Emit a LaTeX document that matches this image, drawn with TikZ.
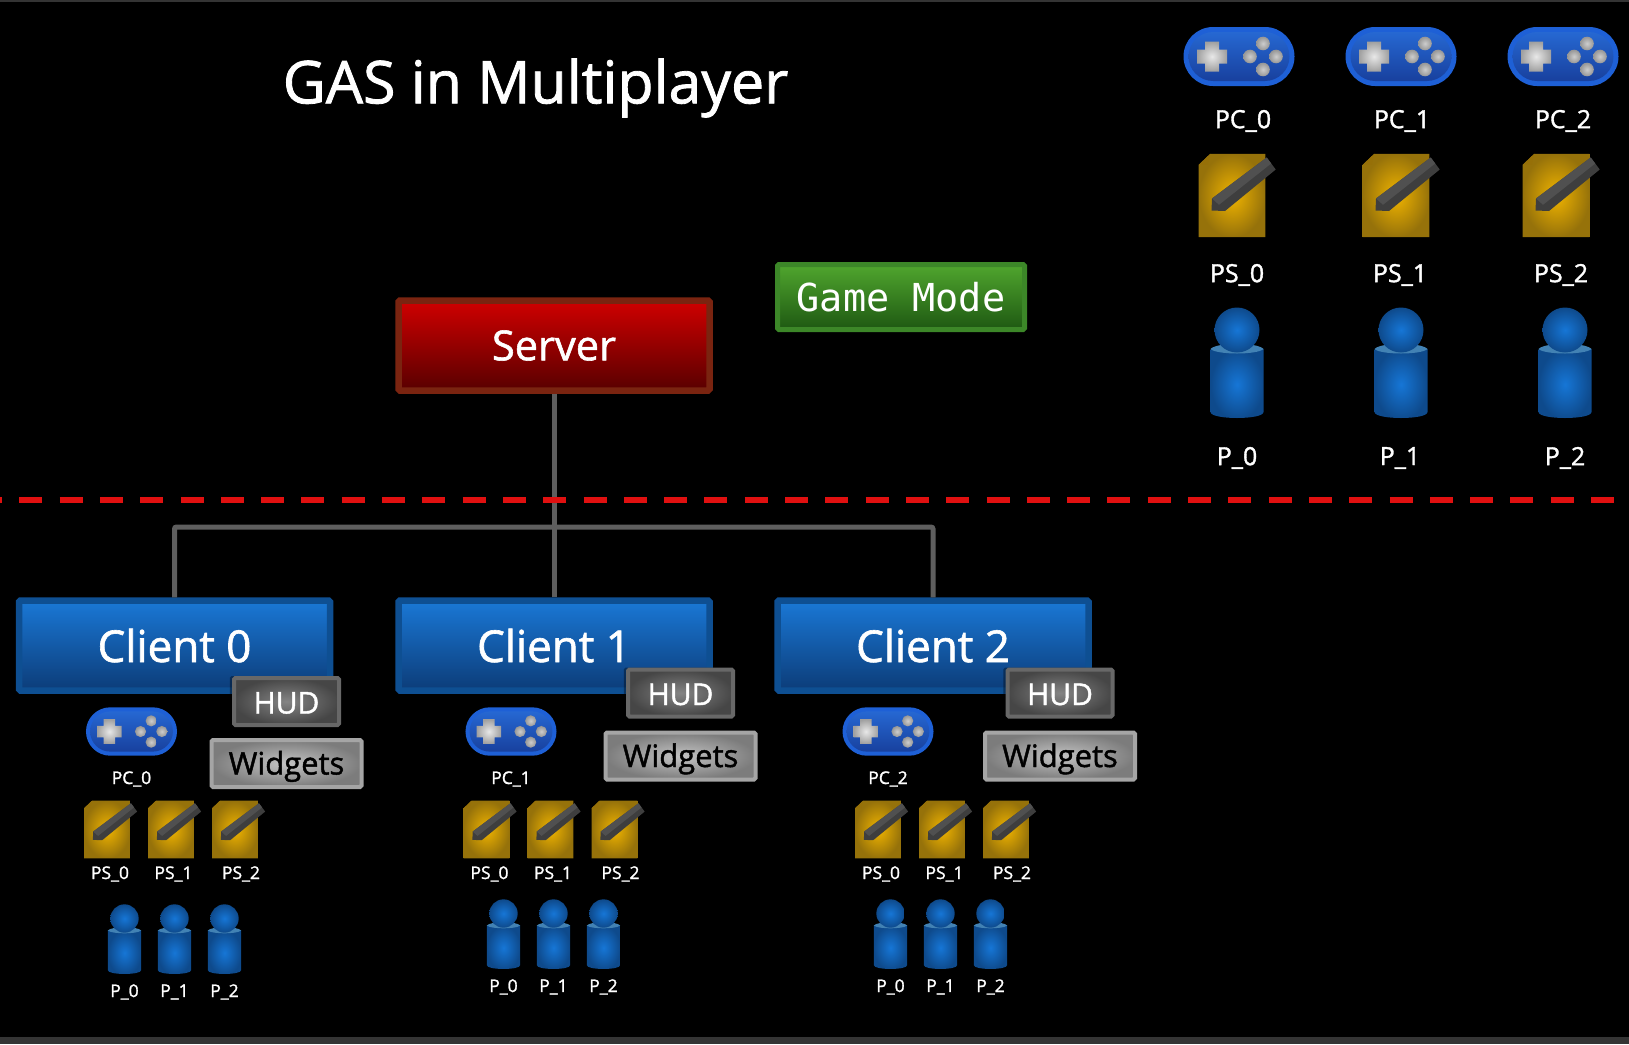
\documentclass[tikz,border=0pt]{standalone}
\usepackage{fontspec}
\setmainfont{Open Sans}[RawFeature={embolden=1.4}]
\newfontfamily\modefont{DejaVu Sans Mono}
\usetikzlibrary{shadows}

\definecolor{rimblue}{HTML}{0E4F92}
\definecolor{wiregray}{HTML}{5E5E5E}
\definecolor{cutred}{HTML}{E01010}

\newcommand{\fsize}[1]{\fontsize{#1}{#1}\selectfont}
% half straight length, radius
\newcommand{\pill}[2]{(-#1,-#2) -- (#1,-#2) .. controls ({#1+.55*#2},-#2) and ({#1+#2},{-.55*#2}) .. ({#1+#2},0) .. controls ({#1+#2},{.55*#2}) and ({#1+.55*#2},#2) .. (#1,#2) -- (-#1,#2) .. controls ({-#1-.55*#2},#2) and ({-#1-#2},{.55*#2}) .. ({-#1-#2},0) .. controls ({-#1-#2},{-.55*#2}) and ({-#1-.55*#2},-#2) .. cycle}

\tikzset{
    panel/.style = {rounded corners=1.5pt, line width=6.5pt, text=white, font=\fsize{41.5}},
    server/.style = {panel, minimum width=311pt, minimum height=90pt, draw={rgb,255:red,122;green,36;blue,16}, top color={rgb,255:red,208;green,0;blue,0}, bottom color={rgb,255:red,88;green,0;blue,0}},
    client/.style = {panel, minimum width=311pt, minimum height=90pt, draw=rimblue, top color={rgb,255:red,26;green,120;blue,214}, bottom color={rgb,255:red,12;green,60;blue,120}, font=\fsize{44}},
    mode/.style = {panel, line width=5pt, minimum width=247pt, minimum height=65pt, draw={rgb,255:red,60;green,135;blue,40}, top color={rgb,255:red,80;green,166;blue,46}, bottom color={rgb,255:red,30;green,88;blue,18}, font=\modefont\fsize{38.5}},
    hud/.style = {panel, line width=4pt, minimum width=105pt, minimum height=47pt, draw={rgb,255:red,104;green,104;blue,104}, inner color={rgb,255:red,132;green,132;blue,132}, outer color={rgb,255:red,70;green,70;blue,70}, font=\fsize{30}, text height=26pt, text depth=2pt, general shadow={shadow scale=1.08, fill=black, opacity=.35}},
    widgets/.style = {panel, line width=4pt, minimum width=150pt, minimum height=47pt, draw={rgb,255:red,165;green,165;blue,165}, inner color={rgb,255:red,196;green,196;blue,196}, outer color={rgb,255:red,124;green,124;blue,124}, text=black, font=\fsize{31}, text height=25pt, text depth=3pt},
    biglabel/.style = {text=white, inner sep=0pt, font=\fsize{25}, yshift=-3pt},
    smalllabel/.style = {text=white, inner sep=0pt, font=\fsize{17.5}, yshift=-2pt},
    wire/.style = {draw=wiregray, line width=5pt, rounded corners=2pt},
    gamepad/.pic = {
        \fill[color={rgb,255:red,30;green,96;blue,214}] \pill{26}{29.5};
        \shade[top color={rgb,255:red,38;green,104;blue,210}, bottom color={rgb,255:red,24;green,64;blue,158}] \pill{26}{24.5};
        \shade[inner color={rgb,255:red,232;green,232;blue,232}, outer color={rgb,255:red,160;green,160;blue,160}]
            (-34,-15) -- (-20,-15) -- (-20,-7) -- (-12,-7) -- (-12,7) -- (-20,7) -- (-20,15) -- (-34,15) -- (-34,7) -- (-42,7) -- (-42,-7) -- (-34,-7) -- cycle;
        \foreach \bx/\by in {24/-13, 24/13, 11/0, 37/0}
            \shade[inner color={rgb,255:red,205;green,205;blue,205}, outer color={rgb,255:red,150;green,150;blue,150}] (\bx,\by) circle[radius=6.8];
    },
    notepad/.pic = {
        \shade[inner color={rgb,255:red,240;green,180;blue,0}, outer color={rgb,255:red,150;green,114;blue,10}]
            (-33.3,-30.7) -- (-21.7,-41.7) -- (33.3,-41.7) -- (33.3,41.7) -- (-33.3,41.7) -- cycle;
        \fill[color={rgb,255:red,150;green,112;blue,8}] (-33.3,-30.7) -- (-21.7,-41.7) -- (-24,-31) -- cycle;
        \fill[color={rgb,255:red,62;green,62;blue,62}] (-20.5,15) -- (-20,3) -- (34.7,-38) -- (43.7,-26) -- (-7,15.5) -- cycle;
        \fill[color={rgb,255:red,80;green,80;blue,80}] (-20,3) -- (34.7,-38) -- (39.2,-32) -- (-13,9.3) -- cycle;
    },
    pawn/.pic = {
        \shade[inner color={rgb,255:red,22;green,118;blue,214}, outer color={rgb,255:red,14;green,74;blue,140}]
            (-26.5,19) -- (26.5,19) -- (26.5,82) .. controls (26.5,90) and (-26.5,90) .. (-26.5,82) -- cycle;
        \fill[color={rgb,255:red,66;green,130;blue,180}] (-26.5,19) .. controls (-20,12) and (20,12) .. (26.5,19) .. controls (20,25) and (-20,25) .. cycle;
        \shade[inner color={rgb,255:red,22;green,118;blue,214}, outer color={rgb,255:red,14;green,74;blue,140}] (0,0) circle[radius=22.5];
    }
}

\begin{document}
\begin{tikzpicture}[x=1pt, y=-1pt]
    \useasboundingbox (0,0) rectangle (1629,1044);
    \fill[black] (0,0) rectangle (1629,1044);
    \fill[color={rgb,255:red,52;green,52;blue,52}] (0,0) rectangle (1629,2);
    \fill[color={rgb,255:red,52;green,52;blue,52}] (0,1037) rectangle (1629,1044);

    \node (title) at (535.5,88) [text=white, inner sep=0pt, font=\fsize{59}] {GAS in Multiplayer};

    \node (server) at (554,345.5) [server] {Server};
    \node (gamemode) at (901,297) [mode] {Game Mode};

    \node (client0) at (174.5,645.5) [client] {Client 0};
    \node (client1) at (554,645.5) [client] {Client 1};
    \node (client2) at (933,645.5) [client] {Client 2};

    \coordinate (bus) at (554,527);
    \draw [wire] (server) -- (client1);
    \draw [wire] (client0) |- (bus) -| (client2);
    % red cut line over the wires
    \coordinate (cutL) at (0,500);
    \coordinate (cutR) at (1629,500);
    \draw [cutred, line width=6pt, dash pattern=on 23pt off 17.3pt, dash phase=21pt] (cutL) -- (cutR);

    % right hand legend
    \foreach \i/\xa/\xb/\xc/\xd/\xe in {0/1239/1243/1232/1237/1237, 1/1401/1402/1396/1400/1400, 2/1563/1563/1556/1561/1561}{
        \pic (pad\i) at (\xa,56.5) {gamepad};
        \node (padlabel\i) at (\xb,118) [biglabel] {PC\_\i};
        \pic (note\i) at (\xc,195.5) {notepad};
        \node (notelabel\i) at (\xd,272) [biglabel] {PS\_\i};
    }
    \foreach \i/\xa/\xb in {0/1237/1237, 1/1401/1400, 2/1565/1565}{
        \pic (pawn\i) at (\xa,330) {pawn};
        \node (pawnlabel\i) at (\xb,455) [biglabel] {P\_\i};
    }

    % per client
    \foreach \c/\hx/\hy/\wy/\px/\nx/\mx/\my/\lx in {0/286.5/701.5/763.5/131.5/0/0.5/1.5/110, 1/680.5/693/756/511/379.5/379.5/-3.5/489.5, 2/1060/693/756/888/771/766.5/-3.5/881}{
        \node (hud\c) at (\hx,\hy) [hud] {HUD};
        \node (widgets\c) at (\hx,\wy) [widgets] {Widgets};
        \pic[scale=.82] (pad\c c) at (\px,731.5) {gamepad};
        \node (padlabel\c c) at (\px,777) [smalllabel] {PC\_\c};
        \foreach \i/\x/\t in {0/107/110, 1/171/173.5, 2/235/241}{
            \pic[scale=.69] (note\c-\i) at ({\x+\nx},829.5) {notepad};
            \node (notelabel\c-\i) at ({\t+\nx},872) [smalllabel] {PS\_\i};
        }
        \foreach \i/\x in {0/124, 1/174, 2/224}{
            \pic[scale=.63] (pawn\c-\i) at ({\x+\mx},{917+\my}) {pawn};
            \node (pawnlabel\c-\i) at ({\x+\mx},{988.5+\my}) [smalllabel] {P\_\i};
        }
    }
\end{tikzpicture}
\end{document}
